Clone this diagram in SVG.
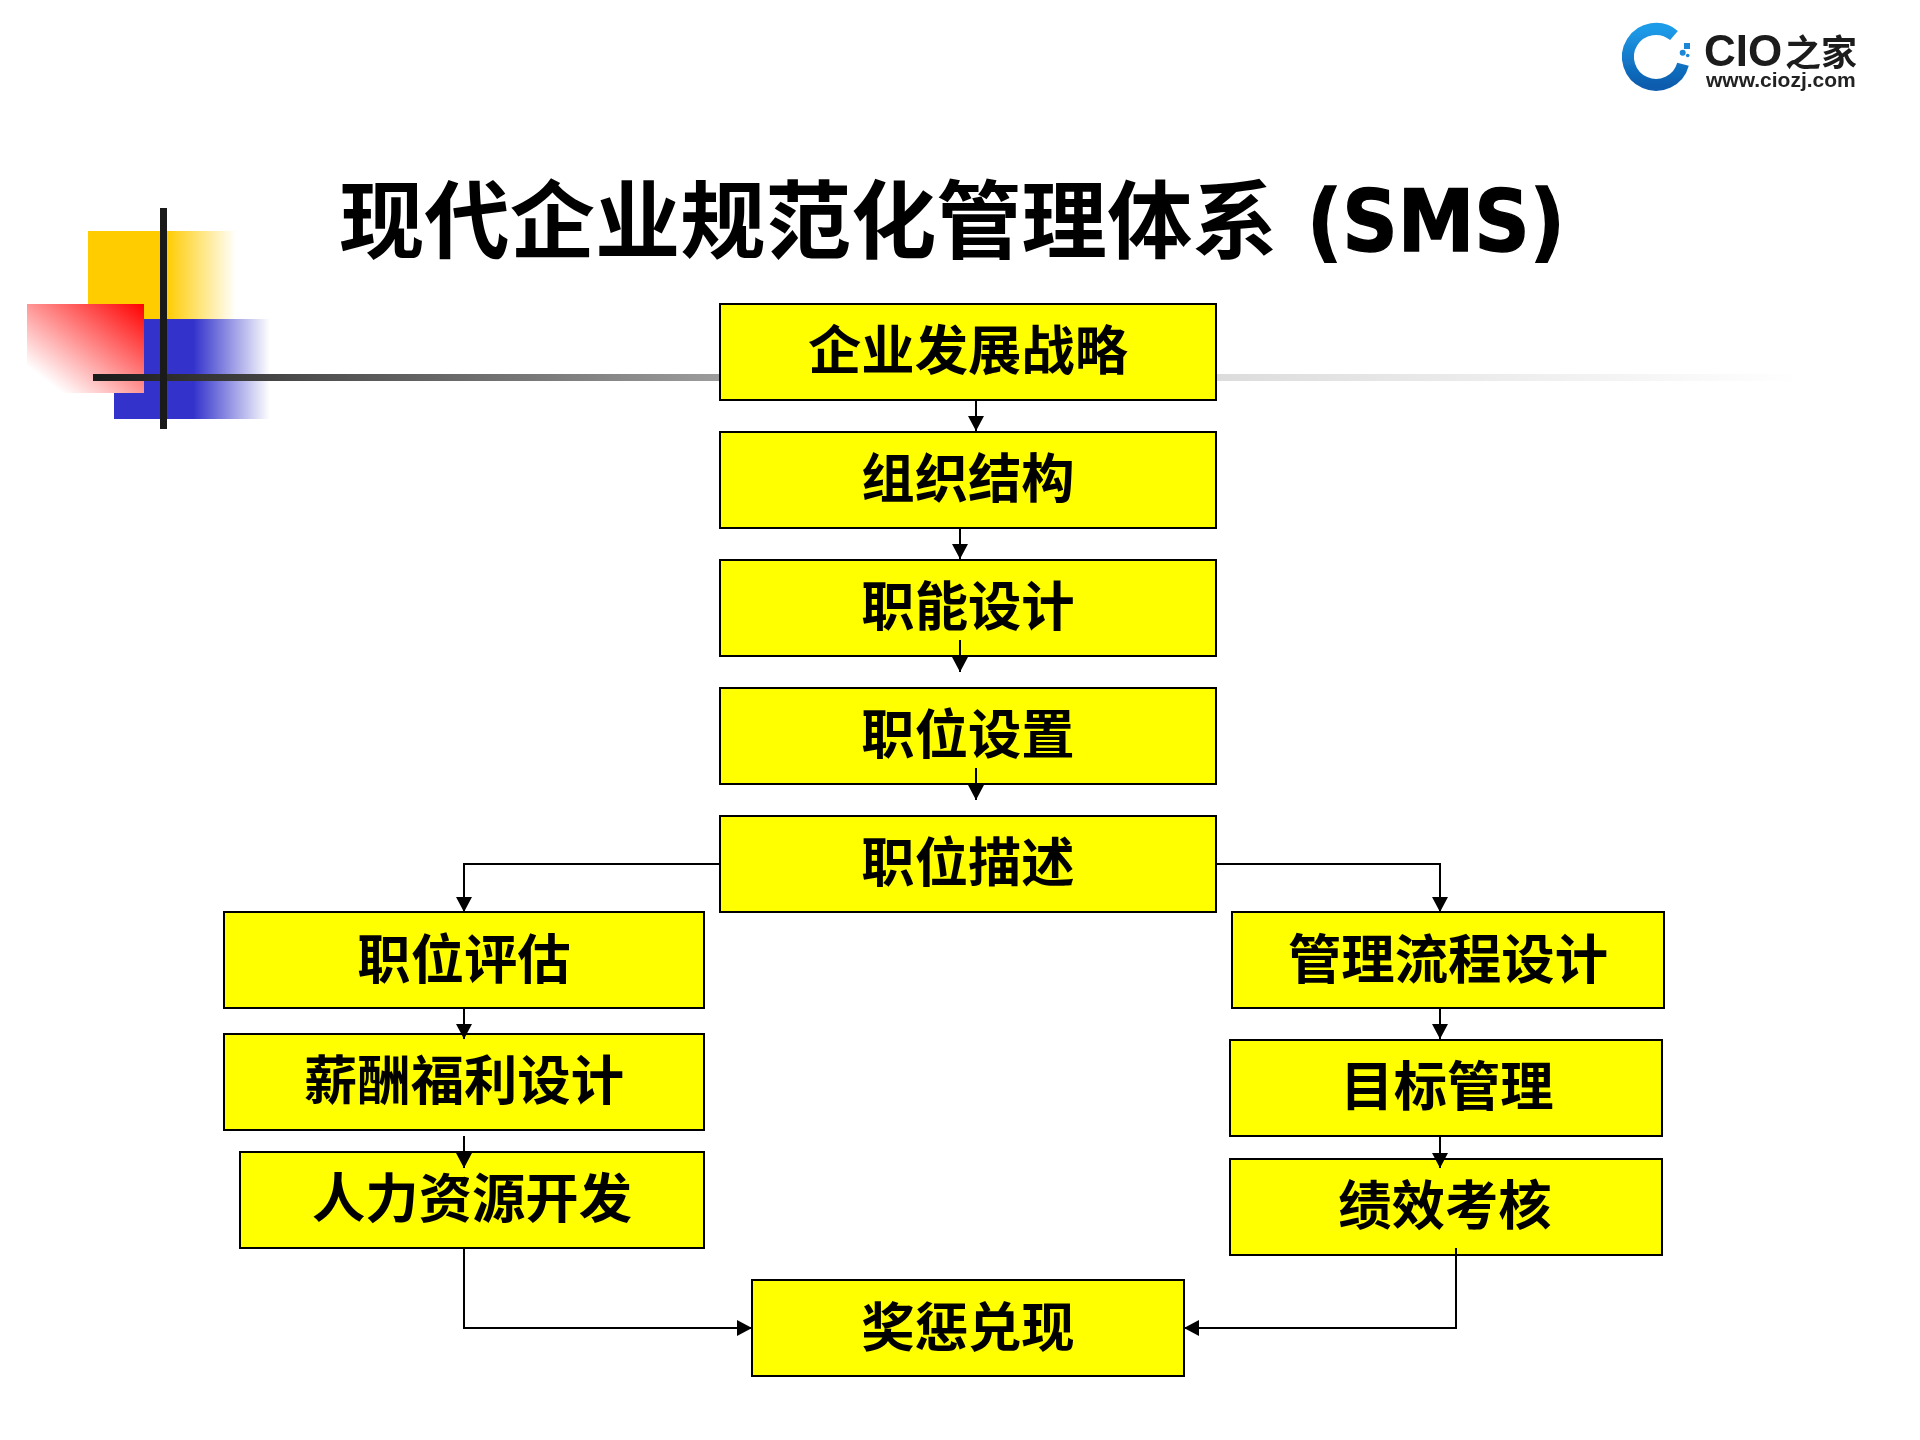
<svg xmlns="http://www.w3.org/2000/svg" width="1920" height="1440" viewBox="0 0 1920 1440">
  <style>
    .box { fill: #ffff00; stroke: #000; stroke-width: 2; }
    .lbl { font-family: "Noto Sans CJK SC", sans-serif; font-weight: 700; font-size: 53.33px; fill: #000; text-anchor: middle; }
    .ttl { font-family: "Noto Sans CJK SC", sans-serif; font-weight: 700; font-size: 85.33px; fill: #000; }
    .sms { font-family: "DejaVu Sans", sans-serif; font-weight: 700; font-stretch: condensed; font-size: 86px; fill: #000; stroke: #000; stroke-width: 1.4; }
    .cn { fill: none; stroke: #000; stroke-width: 2; }
    .arr { marker-end: url(#tip); }
  </style>
  <defs>
    <marker id="tip" markerUnits="userSpaceOnUse" markerWidth="16" markerHeight="16" refX="15" refY="8" orient="auto">
      <path d="M0 0 L15 8 L0 16 Z" fill="#000"/>
    </marker>
    <linearGradient id="gy" gradientUnits="userSpaceOnUse" x1="88" y1="0" x2="236" y2="0">
      <stop offset="0.53" stop-color="#ffcc00"/><stop offset="1" stop-color="#ffcc00" stop-opacity="0"/>
    </linearGradient>
    <linearGradient id="gb" gradientUnits="userSpaceOnUse" x1="114" y1="0" x2="270" y2="0">
      <stop offset="0.51" stop-color="#3333cc"/><stop offset="1" stop-color="#3333cc" stop-opacity="0"/>
    </linearGradient>
    <linearGradient id="gr" x1="1" y1="0" x2="0" y2="1">
      <stop offset="0" stop-color="#ff0000"/><stop offset="0.85" stop-color="#ffffff"/>
    </linearGradient>
    <linearGradient id="gl" gradientUnits="userSpaceOnUse" x1="93" y1="0" x2="1800" y2="0">
      <stop offset="0" stop-color="#1a1a1a"/><stop offset="0.133" stop-color="#505050"/><stop offset="0.367" stop-color="#9c9c9c"/><stop offset="0.658" stop-color="#dcdcdc"/><stop offset="1" stop-color="#ffffff"/>
    </linearGradient>
    <linearGradient id="gc" x1="0" y1="0" x2="0" y2="1">
      <stop offset="0" stop-color="#1f9be8"/><stop offset="1" stop-color="#0a5cae"/>
    </linearGradient>
    <filter id="soft" x="-5%" y="-5%" width="110%" height="110%"><feGaussianBlur stdDeviation="0.6"/></filter>
  </defs>
  <rect width="1920" height="1440" fill="#fff"/>

  <g id="decor">
    <rect x="88" y="231" width="148" height="88" fill="url(#gy)"/>
    <rect x="114" y="319" width="156" height="100" fill="url(#gb)"/>
    <rect x="27" y="304" width="117" height="89" fill="url(#gr)"/>
    <rect x="93" y="374" width="1707" height="7" fill="url(#gl)"/>
    <rect x="160" y="208" width="7" height="221" fill="#1a1a1a"/>
  </g>

  <g id="logo" filter="url(#soft)">
    <path d="M1674 35.5 A28 28 0 1 0 1683 64.2" fill="none" stroke="url(#gc)" stroke-width="12"/>
    <rect x="1684" y="43" width="6" height="6" fill="#1c86d6"/>
    <circle cx="1682.7" cy="52.7" r="3" fill="#1c86d6"/>
    <circle cx="1687.7" cy="55.5" r="1.8" fill="#1c86d6"/>
    <text x="1704" y="66" font-family="Liberation Sans, sans-serif" font-weight="700" font-size="44" fill="#1a1a1a">CIO</text>
    <text x="1785" y="66" font-family="Noto Sans CJK SC, sans-serif" font-weight="700" font-size="36" fill="#1a1a1a">之家</text>
    <text x="1706" y="87" font-family="Liberation Sans, sans-serif" font-weight="700" font-size="21" fill="#222">www.ciozj.com</text>
  </g>

  <g id="title">
    <text class="ttl" x="339" y="252">现代企业规范化管理体系</text>
    <text class="sms" x="1307" y="251" textLength="258" lengthAdjust="spacingAndGlyphs">(SMS)</text>
  </g>

  <g id="n1"><rect class="box" x="720" y="304" width="496" height="96"/><text class="lbl" x="968" y="370">企业发展战略</text></g>
  <g id="n2"><rect class="box" x="720" y="432" width="496" height="96"/><text class="lbl" x="968" y="498">组织结构</text></g>
  <g id="n3"><rect class="box" x="720" y="560" width="496" height="96"/><text class="lbl" x="968" y="626">职能设计</text></g>
  <g id="n4"><rect class="box" x="720" y="688" width="496" height="96"/><text class="lbl" x="968" y="754">职位设置</text></g>
  <g id="n5"><rect class="box" x="720" y="816" width="496" height="96"/><text class="lbl" x="968" y="882">职位描述</text></g>
  <g id="n6"><rect class="box" x="224" y="912" width="480" height="96"/><text class="lbl" x="464" y="979">职位评估</text></g>
  <g id="n7"><rect class="box" x="224" y="1034" width="480" height="96"/><text class="lbl" x="464" y="1100">薪酬福利设计</text></g>
  <g id="n8"><rect class="box" x="240" y="1152" width="464" height="96"/><text class="lbl" x="472" y="1218">人力资源开发</text></g>
  <g id="n9"><rect class="box" x="1232" y="912" width="432" height="96"/><text class="lbl" x="1448" y="979">管理流程设计</text></g>
  <g id="n10"><rect class="box" x="1230" y="1040" width="432" height="96"/><text class="lbl" x="1447" y="1106">目标管理</text></g>
  <g id="n11"><rect class="box" x="1230" y="1159" width="432" height="96"/><text class="lbl" x="1445" y="1225">绩效考核</text></g>
  <g id="n12"><rect class="box" x="752" y="1280" width="432" height="96"/><text class="lbl" x="968" y="1347">奖惩兑现</text></g>

  <g id="connectors">
    <path class="cn arr" d="M976 400 V431"/>
    <path class="cn arr" d="M960 528 V559"/>
    <path class="cn arr" d="M960 640 V672"/>
    <path class="cn arr" d="M976 768 V800"/>
    <path class="cn arr" d="M720 864 H464 V912"/>
    <path class="cn arr" d="M1216 864 H1440 V912"/>
    <path class="cn arr" d="M464 1008 V1039"/>
    <path class="cn arr" d="M464 1136 V1168"/>
    <path class="cn arr" d="M1440 1008 V1039"/>
    <path class="cn arr" d="M1440 1136 V1168"/>
    <path class="cn arr" d="M464 1248 V1328 H752"/>
    <path class="cn arr" d="M1456 1248 V1328 H1184"/>
  </g>
</svg>
